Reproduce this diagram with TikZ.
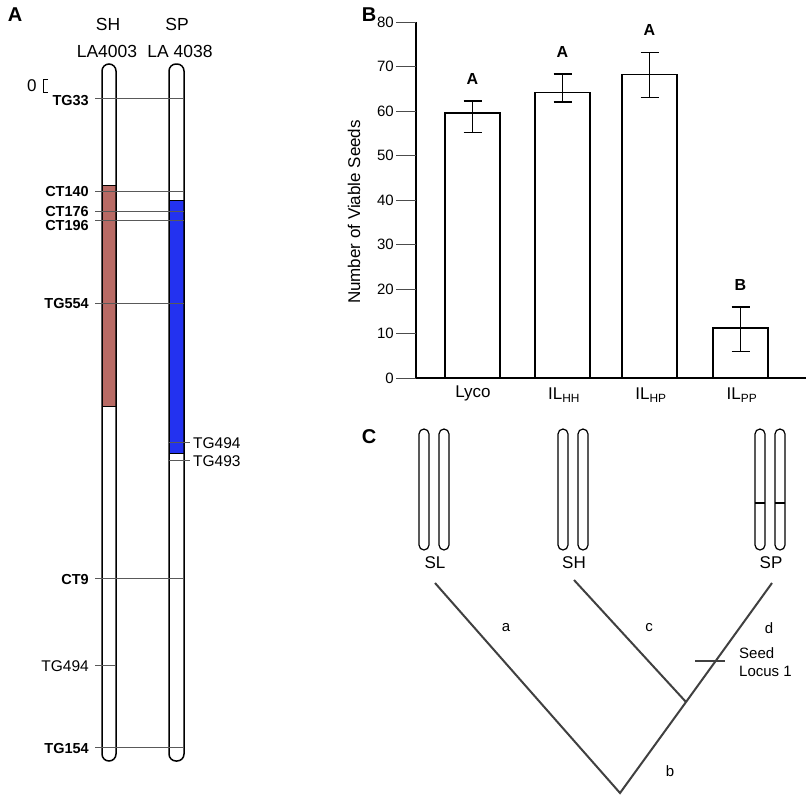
\documentclass[tikz,border=0pt]{standalone}
\usepackage{fontspec}
\setmainfont{Liberation Sans}
\begin{document}
\begin{tikzpicture}[x=1pt,y=-1pt,
  lab/.style={font=\fontsize{17}{17}\selectfont,inner sep=0pt},
  mk/.style={font=\bfseries\fontsize{14.5}{14.5}\selectfont,inner sep=0pt,anchor=east},
  mkr/.style={font=\fontsize{15.5}{15.5}\selectfont,inner sep=0pt,anchor=west},
  panel/.style={font=\bfseries\fontsize{20}{20}\selectfont,inner sep=0pt},
  chrom/.style={draw=black,line width=1.5pt,rounded corners=7pt},
  thin/.style={draw=gray!70!black,line width=0.7pt},
  bar/.style={draw=black,line width=1.6pt,fill=white},
  eb/.style={line width=1.5pt},
  br/.style={line width=2pt,draw=black!75}]
\useasboundingbox (0,0) rectangle (810,800);
% Panel A
\node[panel] (pA) at (15,15) {A};
\node[lab,font=\fontsize{17.5}{17.5}\selectfont] (sh) at (108,24) {SH};
\node[lab,font=\fontsize{17.5}{17.5}\selectfont] (sh2) at (107,51) {LA4003};
\node[lab,font=\fontsize{17.5}{17.5}\selectfont] (sp) at (177,24) {SP};
\node[lab,font=\fontsize{17.5}{17.5}\selectfont] (sp2) at (180,51) {LA 4038};
\fill[fill={rgb,255:red,184;green,106;blue,100}] (102,185) rectangle (116,406);
\fill[fill={rgb,255:red,35;green,50;blue,240}] (169,200) rectangle (184,453);
\draw[line width=1pt] (102,185) -- (116,185) (102,406) -- (116,406);
\draw[line width=1pt] (169,200) -- (184,200) (169,453) -- (184,453);
\draw[chrom] (102,64) rectangle (116,761);
\draw[chrom] (169,64) rectangle (184,761);
\foreach \y in {98,191,211,220,303,578,747} \draw[thin] (95,\y) -- (184,\y);
\draw[thin] (95,665) -- (116,665);
\draw[thin] (169,442) -- (190,442);
\draw[thin] (169,460) -- (190,460);
\node[mk] (m1) at (89,101) {TG33};
\node[mk] (m2) at (89,192) {CT140};
\node[mk] (m3) at (89,212) {CT176};
\node[mk] (m4) at (89,226) {CT196};
\node[mk] (m5) at (89,304) {TG554};
\node[mk] (m6) at (89,579) {CT9};
\node[mk,font=\fontsize{15.5}{15.5}\selectfont] (m7) at (89,666) {TG494};
\node[mk] (m8) at (89,748) {TG154};
\node[mkr] (r1) at (193,443) {TG494};
\node[mkr] (r2) at (193,461) {TG493};
\node[lab,anchor=west,font=\fontsize{17}{17}\selectfont] (z) at (27,86) {0};
\draw[line width=0.9pt] (48,79) -- (43,79) -- (43,92) -- (48,92);
% Panel B
\node[panel] (pB) at (369,15) {B};
\draw[line width=2.5pt] (416,22) -- (416,378) -- (806,378);
\foreach \v in {0,10,...,80} {
  \draw[line width=0.8pt,gray!60!black] (396,{378-4.45*\v}) -- (416,{378-4.45*\v});
  \node[lab,anchor=east,font=\fontsize{15}{15}\selectfont] at (394,{378-4.45*\v}) {\v};}
\node[lab,rotate=90] (yl) at (354,212) {Number of Viable Seeds};
\foreach \xa/\xb/\m/\lo/\hi/\L in {445/500/59.5/55.2/62.3/A,535/590/64.2/62/68.3/A,622/677/68.2/63/73.2/A,713/768/11.3/6/16/B}{
  \draw[bar] (\xa,378) rectangle (\xb,{378-4.45*\m});
  \draw[eb] ({(\xa+\xb)/2},{378-4.45*\lo}) -- ({(\xa+\xb)/2},{378-4.45*\hi})
    ({(\xa+\xb)/2-9},{378-4.45*\lo}) -- ({(\xa+\xb)/2+9},{378-4.45*\lo})
    ({(\xa+\xb)/2-9},{378-4.45*\hi}) -- ({(\xa+\xb)/2+9},{378-4.45*\hi});
  \node[lab,font=\bfseries\fontsize{16}{16}\selectfont] at ({(\xa+\xb)/2},{378-4.45*\hi-22}) {\L};}
\node[lab] (x1) at (473,393) {Lyco};
\node[lab] (x2) at (564,395) {IL\textsubscript{HH}};
\node[lab] (x3) at (651,395) {IL\textsubscript{HP}};
\node[lab] (x4) at (742,395) {IL\textsubscript{PP}};
% Panel C
\node[panel] (pC) at (369,437) {C};
\foreach \cx in {424,444,563,583,760,780}
  \draw[line width=1.2pt,rounded corners=5pt] ({\cx-5},429) rectangle ({\cx+5},550);
\draw[line width=1.2pt] (755,503) -- (765,503) (775,503) -- (785,503);
\node[lab] (sl) at (435,563) {SL};
\node[lab] (shc) at (574,563) {SH};
\node[lab] (spc) at (771,563) {SP};
\coordinate (lSL) at (435,583);
\coordinate (lSH) at (574,580);
\coordinate (lSP) at (772,583);
\coordinate (root) at (620,793);
\coordinate (jn) at (686,702);
\draw[br] (lSL) -- (root) -- (jn) -- (lSP);
\draw[br] (lSH) -- (jn);
\draw[br] (695,661) -- (725,661);
\node[lab,font=\fontsize{15}{15}\selectfont] (a) at (506,628) {a};
\node[lab,font=\fontsize{15}{15}\selectfont] (c) at (649,628) {c};
\node[lab,font=\fontsize{15}{15}\selectfont] (d) at (769,628) {d};
\node[lab,font=\fontsize{15}{15}\selectfont] (b) at (670,771) {b};
\node[lab,anchor=west,align=left,font=\fontsize{15}{18}\selectfont] (seed) at (739,662) {Seed\\Locus 1};
\end{tikzpicture}
\end{document}
